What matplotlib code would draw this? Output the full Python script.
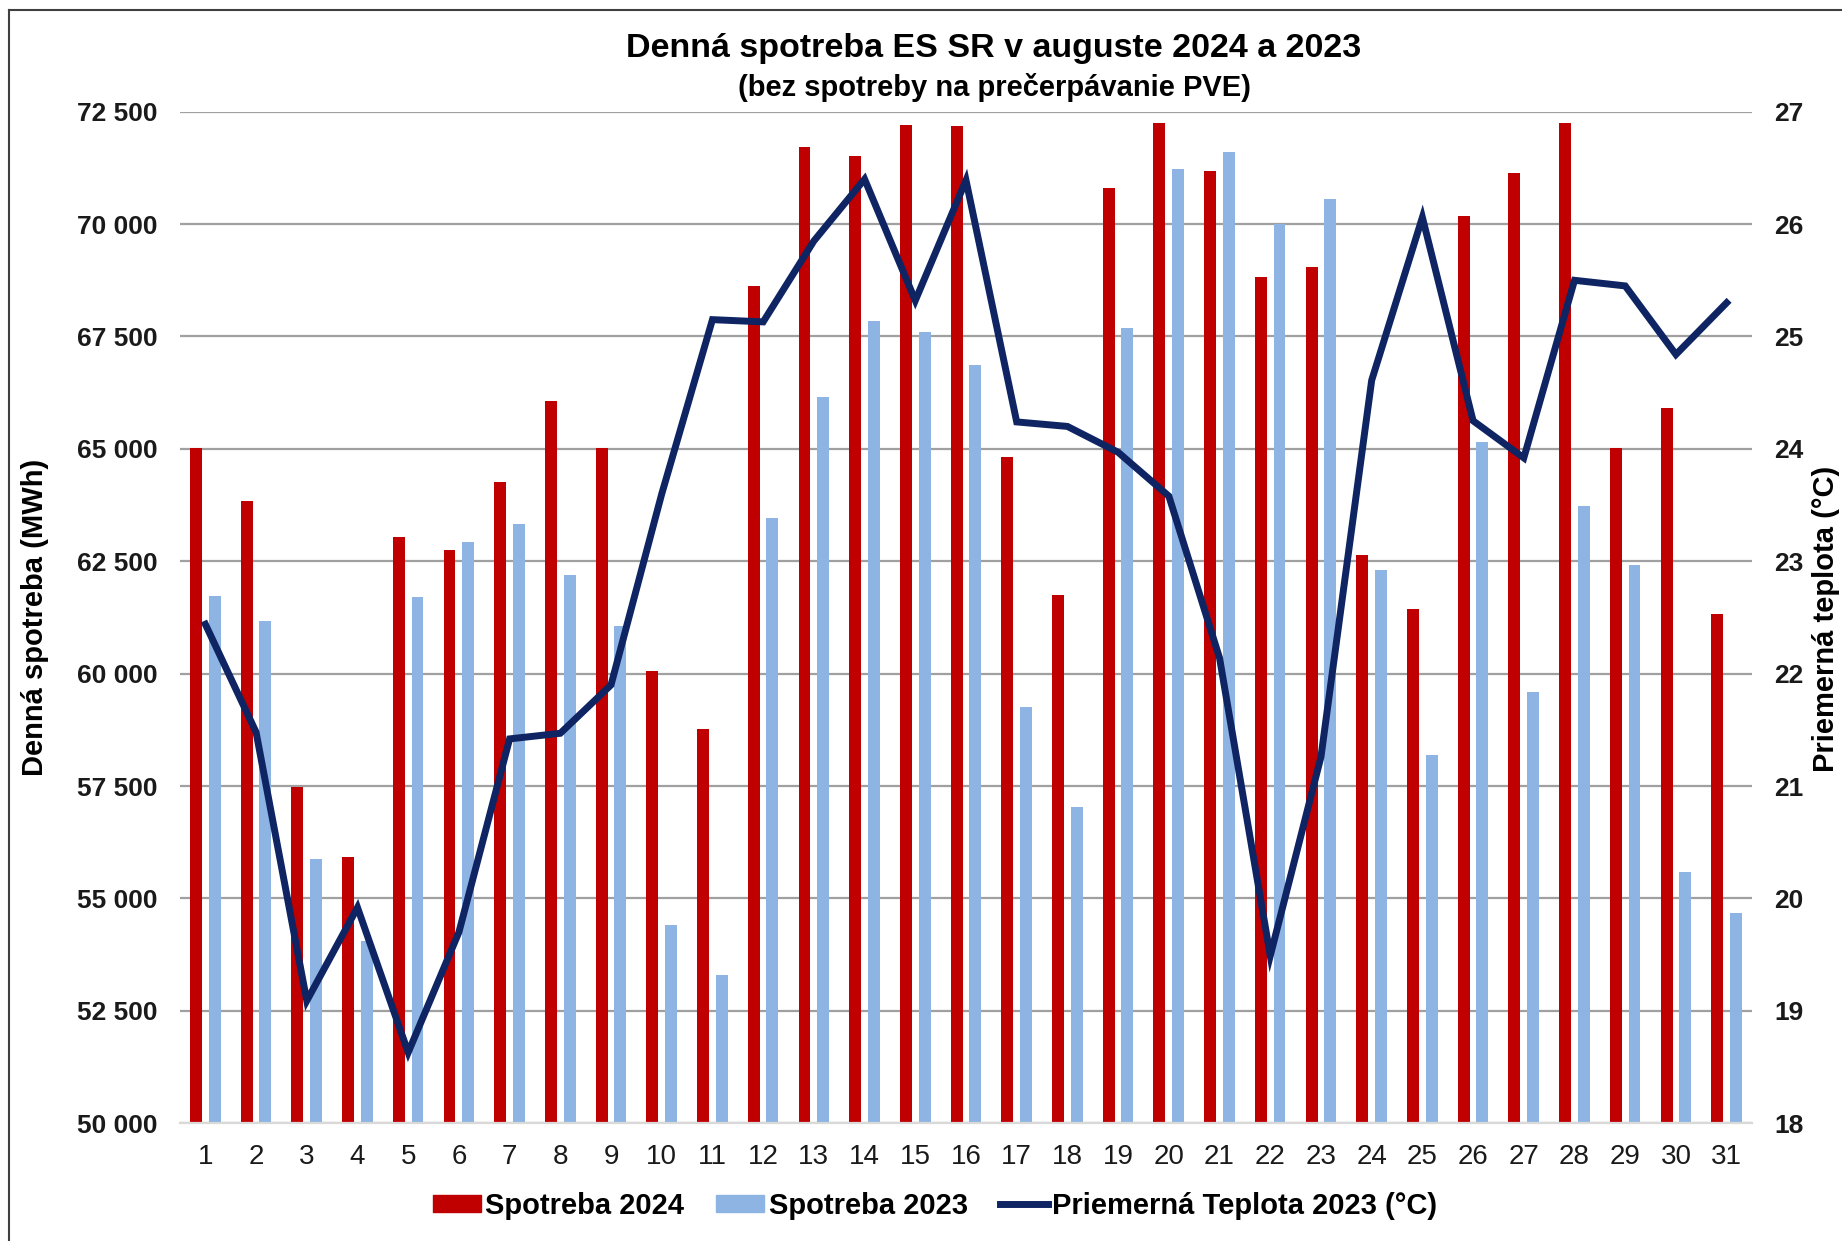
import numpy as np
import matplotlib; matplotlib.use("Agg"); import matplotlib.pyplot as plt
from matplotlib.patches import Patch
from matplotlib.lines import Line2D

plt.rcParams['font.family'] = ['Liberation Sans', 'DejaVu Sans']

days = list(range(1, 32))
spotreba_2024 = [65020, 63850, 57480, 55920, 63030, 62760, 64260, 66070, 65020, 60070,
                 58780, 68620, 71720, 71510, 72210, 72190, 64830, 61750, 70800, 72250,
                 71180, 68830, 69040, 62630, 61440, 70170, 71140, 72250, 65010, 65910,
                 61330]
spotreba_2023 = [61720, 61170, 55870, 54050, 61710, 62940, 63340, 62190, 61060, 54420,
                 53290, 63470, 66160, 67840, 67590, 66870, 59260, 57030, 67690, 71220,
                 71600, 70010, 70560, 62300, 58200, 65160, 59600, 63730, 62410, 55580,
                 54680]
teplota_2023 = [22.44, 21.48, 19.09, 19.92, 18.63, 19.70, 21.42, 21.47, 21.90, 23.60,
                25.15, 25.13, 25.85, 26.40, 25.32, 26.39, 24.24, 24.20, 23.97, 23.58,
                22.14, 19.49, 21.26, 24.61, 26.06, 24.25, 23.92, 25.50, 25.45, 24.84,
                25.30]
left_ticks = [50000, 52500, 55000, 57500, 60000, 62500, 65000, 67500, 70000, 72500]
right_ticks = [18, 19, 20, 21, 22, 23, 24, 25, 26, 27]

RED = '#C00000'; BLUE = '#8DB4E2'; NAVY = '#0E2463'

W, H = 1842, 1241
fig = plt.figure(figsize=(W/100, H/100), dpi=100)
ax = fig.add_axes([180/W, 1-1123.3/H, (1752-180)/W, (1123.3-111.7)/H])
x = np.array(days)
bw = 0.235
ax.bar(x-0.185, spotreba_2024, bw, color=RED, zorder=2)
ax.bar(x+0.183, spotreba_2023, bw, color=BLUE, zorder=2)
ax.set_xlim(0.5, 31.5); ax.set_ylim(50000, 72500)
ax.set_yticks(left_ticks)
ax.set_yticklabels([f"{v:,}".replace(",", " ") for v in left_ticks], fontweight='bold')
ax.set_xticks(x); ax.set_xticklabels([str(d) for d in days])
ax.tick_params(axis='y', length=0, pad=16, labelsize=19, colors='#1a1a1a')
ax.tick_params(axis='x', length=0, pad=15, labelsize=20, colors='#1a1a1a')
ax.grid(axis='y', color='#A0A0A0', lw=1.6, zorder=0)
for s in ['top', 'right', 'left']: ax.spines[s].set_visible(False)
ax.spines['bottom'].set_color('#D9D9D9'); ax.spines['bottom'].set_linewidth(1.6)

ax2 = ax.twinx()
ax2.plot(x, teplota_2023, color=NAVY, lw=5, zorder=3, solid_joinstyle='miter')
ax2.set_ylim(18, 27); ax2.set_yticks(right_ticks)
ax2.set_yticklabels([str(t) for t in right_ticks], fontweight='bold')
ax2.tick_params(axis='y', length=0, pad=16, labelsize=19, colors='#1a1a1a')
for s in ax2.spines.values(): s.set_visible(False)

fig.text(35/W, 1-617/H, 'Denná spotreba (MWh)', rotation=90, ha='center', va='center',
         fontsize=21, fontweight='bold')
fig.text(1826/W, 1-619/H, 'Priemerná teplota (°C)', rotation=90, ha='center', va='center',
         fontsize=21, fontweight='bold')
fig.text(994/W, 1-49/H, 'Denná spotreba ES SR v auguste 2024 a 2023', ha='center', va='center',
         fontsize=24.5, fontweight='bold')
fig.text(994/W, 1-87/H, '(bez spotreby na prečerpávanie PVE)', ha='center', va='center',
         fontsize=21, fontweight='bold')

handles = [Patch(color=RED, label='Spotreba 2024'), Patch(color=BLUE, label='Spotreba 2023'),
           Line2D([], [], color=NAVY, lw=5, label='Priemerná Teplota 2023 (°C)')]
fig.legend(handles=handles, loc='center', bbox_to_anchor=(935/W, 1-1206/H), ncol=3,
           frameon=False, prop={'weight': 'bold', 'size': 21}, handlelength=1.65,
           handleheight=0.55, handletextpad=0.15, columnspacing=1.1)

# outer chart frame (right and bottom edges are cut off in the original)
fig.add_artist(Line2D([9/W, 9/W], [0, 1-10/H], color='#404040', lw=1.5))
fig.add_artist(Line2D([9/W, 1], [1-10/H, 1-10/H], color='#404040', lw=1.5))

fig.savefig('out.png', dpi=100)
